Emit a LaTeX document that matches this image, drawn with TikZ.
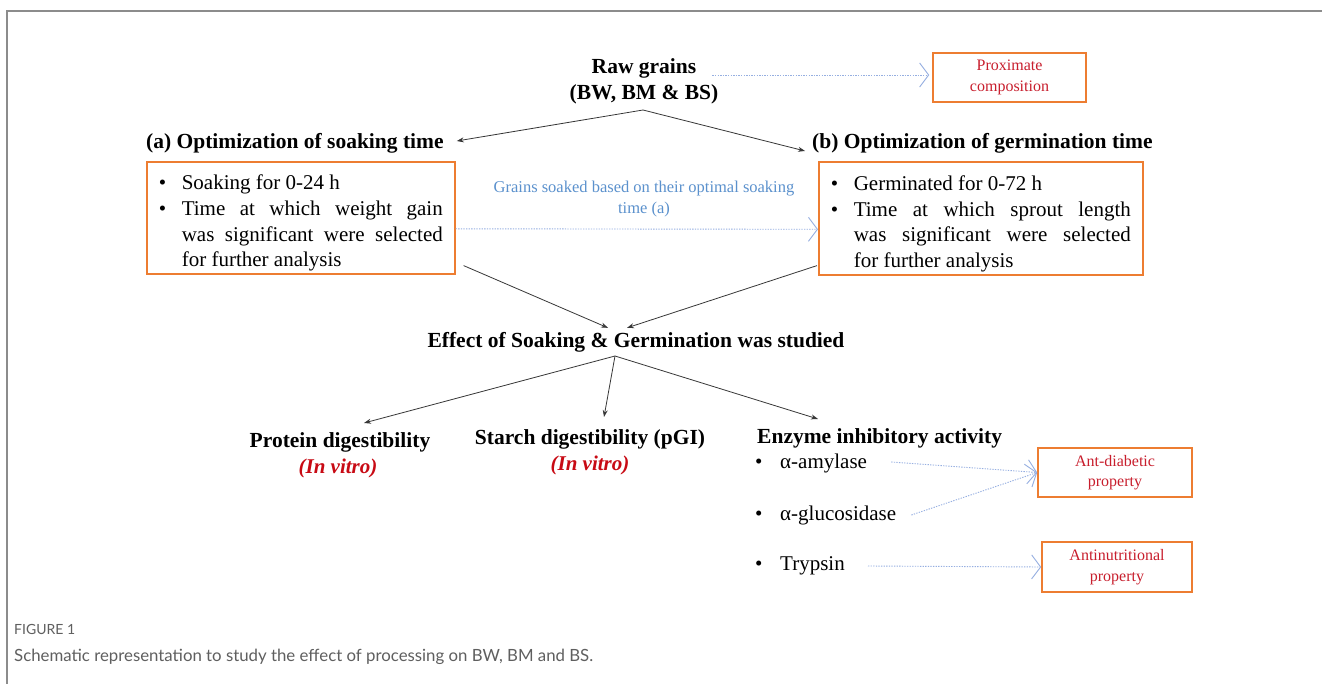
\documentclass[tikz,border=0pt]{standalone}
\usepackage{fontspec}
\setmainfont{Liberation Serif}
\newfontfamily\capfont{Lato}
\usetikzlibrary{arrows.meta}
\definecolor{boxorange}{RGB}{237,125,49}
\definecolor{redtxt}{RGB}{200,30,45}
\definecolor{invred}{RGB}{200,10,20}
\definecolor{bluetxt}{RGB}{91,145,205}
\definecolor{dotblue}{RGB}{150,175,225}
\definecolor{arrowgray}{RGB}{55,55,55}
\definecolor{framegray}{RGB}{140,140,140}
\definecolor{capgray}{RGB}{95,95,95}
\newcommand{\bitem}[1]{\par\noindent\hangindent=23pt\hangafter=1\makebox[23pt][l]{\textbullet}#1\par}
\newcommand{\eitem}[1]{\makebox[25pt][l]{\textbullet}#1}
\begin{document}
\begin{tikzpicture}[x=1pt,y=-1pt,
  hdr/.style={font=\fontsize{21.5}{26}\selectfont\bfseries, inner sep=0pt},
  body/.style={font=\fontsize{21}{25.7}\selectfont},
  obox/.style={draw=boxorange, line width=1.6pt, inner sep=0pt},
  redbox/.style={obox, font=\fontsize{16}{20.5}\selectfont, text=redtxt, align=center},
  solidarr/.style={draw=arrowgray, line width=0.8pt, -{Stealth[length=7pt,width=5pt]}},
  dotarr/.style={draw=dotblue, line width=0.9pt, dash pattern=on 1.3pt off 1.3pt, -{Straight Barb[length=9pt,width=24pt,line width=0.9pt]}},
  invitro/.style={font=\fontsize{21}{25}\selectfont\bfseries\itshape, text=invred, inner sep=0pt},
]
\useasboundingbox (0,0) rectangle (1322,684);
\fill[white] (0,0) rectangle (1322,684);
\draw[framegray, line width=1.2pt] (7,684) -- (7,11) -- (1322,11);

% top
\node[hdr, align=center] (raw) at (644,81) {Raw grains\\(BW, BM \& BS)};
\node[redbox, minimum width=153pt, minimum height=49pt] (prox) at (1009.5,77.5) {Proximate\\composition};
\draw[dotarr, shorten >=3pt] ([shift={(-6,-6)}]raw.east) -- ([shift={(0,-2.5)}]prox.west);

\node[hdr, anchor=west] (ha) at (146,143) {(a) Optimization of soaking time};
\node[hdr, anchor=west] (hb) at (812,143) {(b) Optimization of germination time};
\coordinate (apex) at (643,110);
\draw[solidarr] (apex) -- ([shift={(13,-2)}]ha.east);
\draw[solidarr] (apex) -- ([shift={(-7,8)}]hb.west);

% boxes
\node[obox, body, anchor=north west, minimum width=308pt, minimum height=112pt, text width=284pt, align=justify, inner xsep=12pt] (boxa) at (146,161)
 {\bitem{Soaking for 0-24 h}\bitem{Time at which weight gain\linebreak was significant were selected\linebreak for further analysis}};
\node[obox, body, anchor=north west, minimum width=324pt, minimum height=113pt, text width=300pt, align=justify, inner xsep=12pt] (boxb) at (818,161)
 {\bitem{Germinated for 0-72 h}\bitem{Time at which sprout length\linebreak was significant were selected\linebreak for further analysis}};

\node[font=\fontsize{16.5}{21}\selectfont, text=bluetxt, align=center] (gtxt) at (644,199) {Grains soaked based on their optimal soaking\\time (a)};
\draw[dotarr] ([shift={(0,11)}]boxa.east) -- ([shift={(0,11)}]boxb.west);

% effect
\node[hdr] (eff) at (636,342) {Effect of Soaking \& Germination was studied};
\draw[solidarr] ([shift={(8,-9)}]boxa.south east) -- ([shift={(-28,-4)}]eff.north);
\draw[solidarr] ([shift={(-1,-10)}]boxb.south west) -- ([shift={(-9,-4)}]eff.north);

% bottom row
\node[hdr] (prot) at (340,442) {Protein digestibility};
\node[invitro] (iv1) at (338,468) {(In vitro)};
\node[hdr] (starch) at (590,439) {Starch digestibility (pGI)};
\node[invitro] (iv2) at (590,465) {(In vitro)};
\node[hdr, anchor=west] (enz) at (757,438) {Enzyme inhibitory activity};

\coordinate (apex2) at (615,356);
\draw[solidarr] (apex2) -- (364,423);
\draw[solidarr] (apex2) -- (604,417);
\draw[solidarr] (apex2) -- (818,419);

\node[body, anchor=west, inner sep=0pt] (amy) at (755,463) {\eitem{α-amylase}};
\node[body, anchor=west, inner sep=0pt] (glu) at (755,515) {\eitem{α-glucosidase}};
\node[body, anchor=west, inner sep=0pt] (tryp) at (755,566) {\eitem{Trypsin}};

\node[redbox, minimum width=154pt, minimum height=49pt] (ad) at (1115,472.5) {Ant-diabetic\\property};
\node[redbox, minimum width=150pt, minimum height=50pt] (an) at (1117,567) {Antinutritional\\property};

\draw[dotarr] ([shift={(24,-1)}]amy.east) -- (ad.west);
\draw[dotarr] ([shift={(15,0)}]glu.east) -- (ad.west);
\draw[dotarr] ([shift={(23,0)}]tryp.east) -- (an.west);

% caption
\node[anchor=base west, font=\capfont\fontsize{14}{16}\selectfont, text=capgray, inner sep=0pt] (fig) at (14,634) {FIGURE 1};
\node[anchor=base west, font=\capfont\fontsize{16.8}{20}\selectfont, text=capgray, inner sep=0pt] (cap) at (14,661) {Schematic representation to study the effect of processing on BW, BM and BS.};
\end{tikzpicture}
\end{document}
